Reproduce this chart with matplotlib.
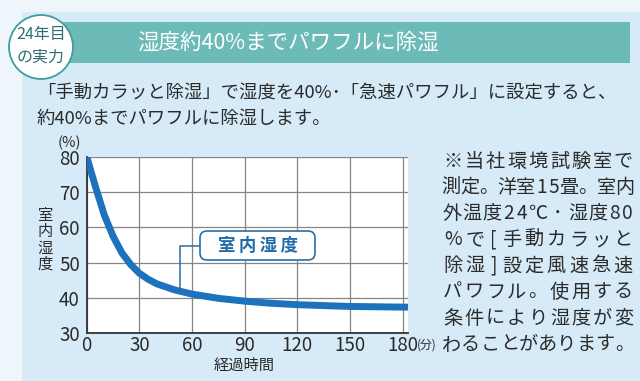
import matplotlib.pyplot as plt
from matplotlib.patches import Rectangle, Ellipse, FancyBboxPatch
from matplotlib.transforms import IdentityTransform

plt.rcParams['font.family'] = ['Noto Sans CJK JP', 'DejaVu Sans']

W, H = 640, 381

# data
minutes = [0, 5, 10, 15, 20, 25, 30, 35, 40, 50, 60, 75, 90, 105, 120, 150, 183]
humidity = [80, 71.5, 63.5, 57.5, 52.8, 49.5, 47.0, 45.3, 44.0, 42.3, 41.1,
            39.9, 39.1, 38.5, 38.1, 37.6, 37.4]
x_ticks = [0, 30, 60, 90, 120, 150, 180]
y_ticks = [30, 40, 50, 60, 70, 80]

title = '湿度約40%までパワフルに除湿'
lead = ['「手動カラッと除湿」で湿度を40%･「急速パワフル」に設定すると、',
        '約40%までパワフルに除湿します。']
note = ['※当社環境試験室で', '測定。洋室15畳。室内', '外温度24℃･湿度80',
        '%で[手動カラッと', '除湿]設定風速急速', 'パワフル。使用する',
        '条件により湿度が変', 'わることがあります。']

BLUE = '#1d72bd'
TEAL = '#6cbbb9'
PANEL = '#d6ebf7'
INK = '#2b2b2b'


def fx(x):
    return x / W


def fy(y):
    return 1 - y / H


fig = plt.figure(figsize=(W / 100, H / 100), dpi=100)
fig.patch.set_facecolor('#eef6fb')
fig.patches.append(Rectangle((fx(22), 0), 1, fy(12), transform=fig.transFigure,
                             facecolor=PANEL, edgecolor='none', zorder=0))
# header bar
fig.patches.append(Rectangle((fx(50), fy(63)), fx(580), 41 / H,
                             transform=fig.transFigure, facecolor=TEAL,
                             edgecolor='none', zorder=1))
fig.patches.append(Ellipse((fx(41), fy(47)), 64 / W, 64 / H,
                           transform=fig.transFigure, facecolor='white',
                           edgecolor='#3f9c9a', lw=1.3, zorder=2))
fig.text(fx(41), fy(35), '24年目', ha='center', va='center', fontsize=11.5,
         color='#2f6f70', zorder=3)
fig.text(fx(41), fy(57), 'の実力', ha='center', va='center', fontsize=11.5,
         color='#2f6f70', zorder=3)
fig.text(fx(288), fy(43), title, ha='center', va='center', fontsize=15.5,
         color='white', zorder=3)
fig.text(fx(37), fy(93), lead[0], ha='left', va='center', fontsize=13.2, color=INK)
fig.text(fx(37), fy(119), lead[1], ha='left', va='center', fontsize=13.2, color=INK)

# justified note lines
x0, x1 = 442, 634
for i, line in enumerate(note):
    units = [0.65 if c.isascii() and c != '%' else 1.0 for c in line]
    step = (x1 - x0) / sum(units)
    x = x0
    for c, u in zip(line, units):
        fig.text(fx(x + u * step / 2), fy(161 + i * 26.2), c, ha='center',
                 va='center', fontsize=13.8, color=INK)
        x += u * step

# chart
ax = fig.add_axes([fx(86.7), fy(333.3), 321.3 / W, 176.6 / H])
ax.set_zorder(4)
ax.set_facecolor('white')
ax.plot(minutes, humidity, color=BLUE, lw=5, solid_capstyle='butt', zorder=3)
ax.set_xlim(0, 183)
ax.set_ylim(30, 80)
ax.set_xticks(x_ticks)
ax.set_yticks(y_ticks)
ax.grid(color='#858585', lw=0.9)
for s in ['top', 'right']:
    ax.spines[s].set_visible(False)
for s in ['left', 'bottom']:
    ax.spines[s].set_color('#333333')
    ax.spines[s].set_linewidth(1.3)
ax.tick_params(length=0, labelsize=13.5, colors=INK)
ax.tick_params(axis='y', pad=5)
ax.tick_params(axis='x', pad=1)

fig.text(fx(69), fy(143), '(%)', ha='center', va='center', fontsize=10.5, color=INK)
fig.text(fx(427), fy(345), '(分)', ha='center', va='center', fontsize=8.5, color=INK)
fig.text(fx(244), fy(365), '経過時間', ha='center', va='center', fontsize=11, color=INK)
fig.text(fx(45), fy(240), '室\n内\n湿\n度', ha='center', va='center', fontsize=11,
         color=INK, linespacing=0.95)

# callout
ax.plot([64, 53, 53], [54.7, 54.7, 42.0], color='#2a6ea6', lw=1.1, zorder=4)
fig.patches.append(FancyBboxPatch((200, H - 260), 115, 29,
                                  boxstyle='round,pad=0,rounding_size=7',
                                  transform=IdentityTransform(), fc='white',
                                  ec='#2a6ea6', lw=1.2, zorder=6))
fig.text(fx(257.5), fy(245.5), '室\u2009内\u2009湿\u2009度', ha='center',
         va='center', fontsize=12.5, fontweight='bold', color='#1f6aa8', zorder=7)

fig.savefig('out.png', dpi=100)
